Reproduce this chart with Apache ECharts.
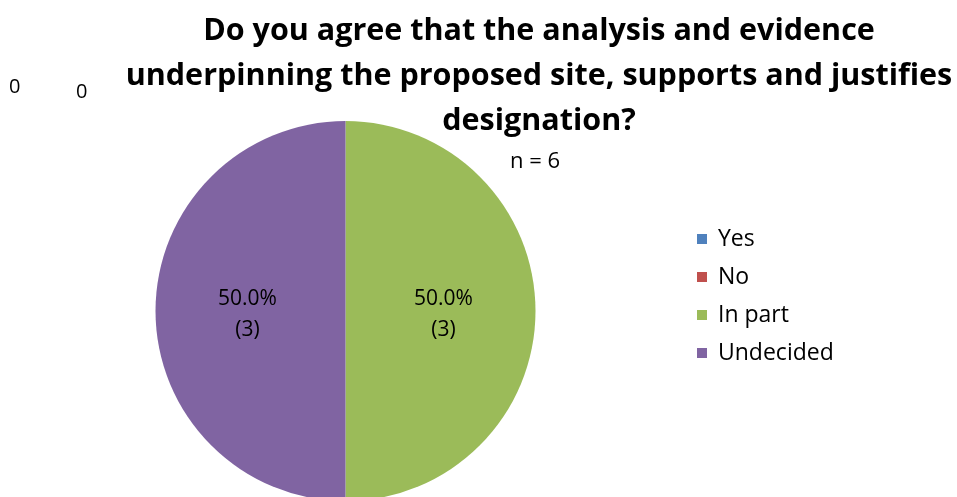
<!DOCTYPE html>
<html><head><meta charset="utf-8">
<script src="https://cdn.jsdelivr.net/npm/echarts@6/dist/echarts.min.js"></script>
<style>html,body{margin:0;padding:0;background:#fff}#c{width:957px;height:497px}</style>
</head><body><div id="c"></div>
<script>
var categories = ['Yes', 'No', 'In part', 'Undecided'];
var values = [0, 0, 3, 3];
var colors = ['#4F81BD', '#C0504D', '#9BBB59', '#8064A2'];
var titleText = 'Do you agree that the analysis and evidence\nunderpinning the proposed site, supports and justifies\ndesignation?';
var subtitle = 'n = 6';

var total = values.reduce(function(a, b){ return a + b; }, 0);
var FONT = 'Open Sans';
var chart = echarts.init(document.getElementById('c'));
var data = categories.map(function(c, i){
  return {
    name: c, value: values[i],
    itemStyle: {color: colors[i]},
    label: {show: values[i] > 0}
  };
});
var zeroPos = [[15, 87], [82, 92]];
var graphics = [];
var zi = 0;
values.forEach(function(v, i){
  if (v === 0 && zi < zeroPos.length) {
    graphics.push({type: 'text', left: zeroPos[zi][0] - 6, top: zeroPos[zi][1] - 10,
      style: {text: String(v), fontSize: 20, fontFamily: FONT, fill: '#000'}});
    zi++;
  }
});
graphics.push({type: 'text', left: 510, top: 151,
  style: {text: subtitle, fontSize: 22, fontFamily: FONT, fill: '#000'}});

chart.setOption({
  animation: false,
  title: {
    text: titleText, left: 534, textAlign: 'center', top: 4,
    textStyle: {fontSize: 30.5, fontWeight: 'bold', fontFamily: FONT, color: '#000', lineHeight: 45}
  },
  legend: {
    orient: 'vertical', left: 692, top: 221, itemWidth: 10, itemHeight: 10, itemGap: 12,
    icon: 'rect',
    data: categories,
    textStyle: {fontSize: 23, fontFamily: FONT, color: '#000', lineHeight: 26, padding: [0, 0, 0, 6]}
  },
  graphic: graphics,
  series: [{
    type: 'pie', center: [345.5, 311], radius: 190, startAngle: 90, clockwise: true,
    minShowLabelAngle: 0, avoidLabelOverlap: false,
    label: {
      position: 'inside', fontSize: 21, fontFamily: FONT, color: '#000', lineHeight: 31,
      offset: [0, 4],
      formatter: function(p){ return (p.value / total * 100).toFixed(1) + '%\n(' + p.value + ')'; }
    },
    labelLine: {show: false},
    itemStyle: {borderWidth: 0},
    emphasis: {disabled: true},
    data: data
  }]
});
</script></body></html>
